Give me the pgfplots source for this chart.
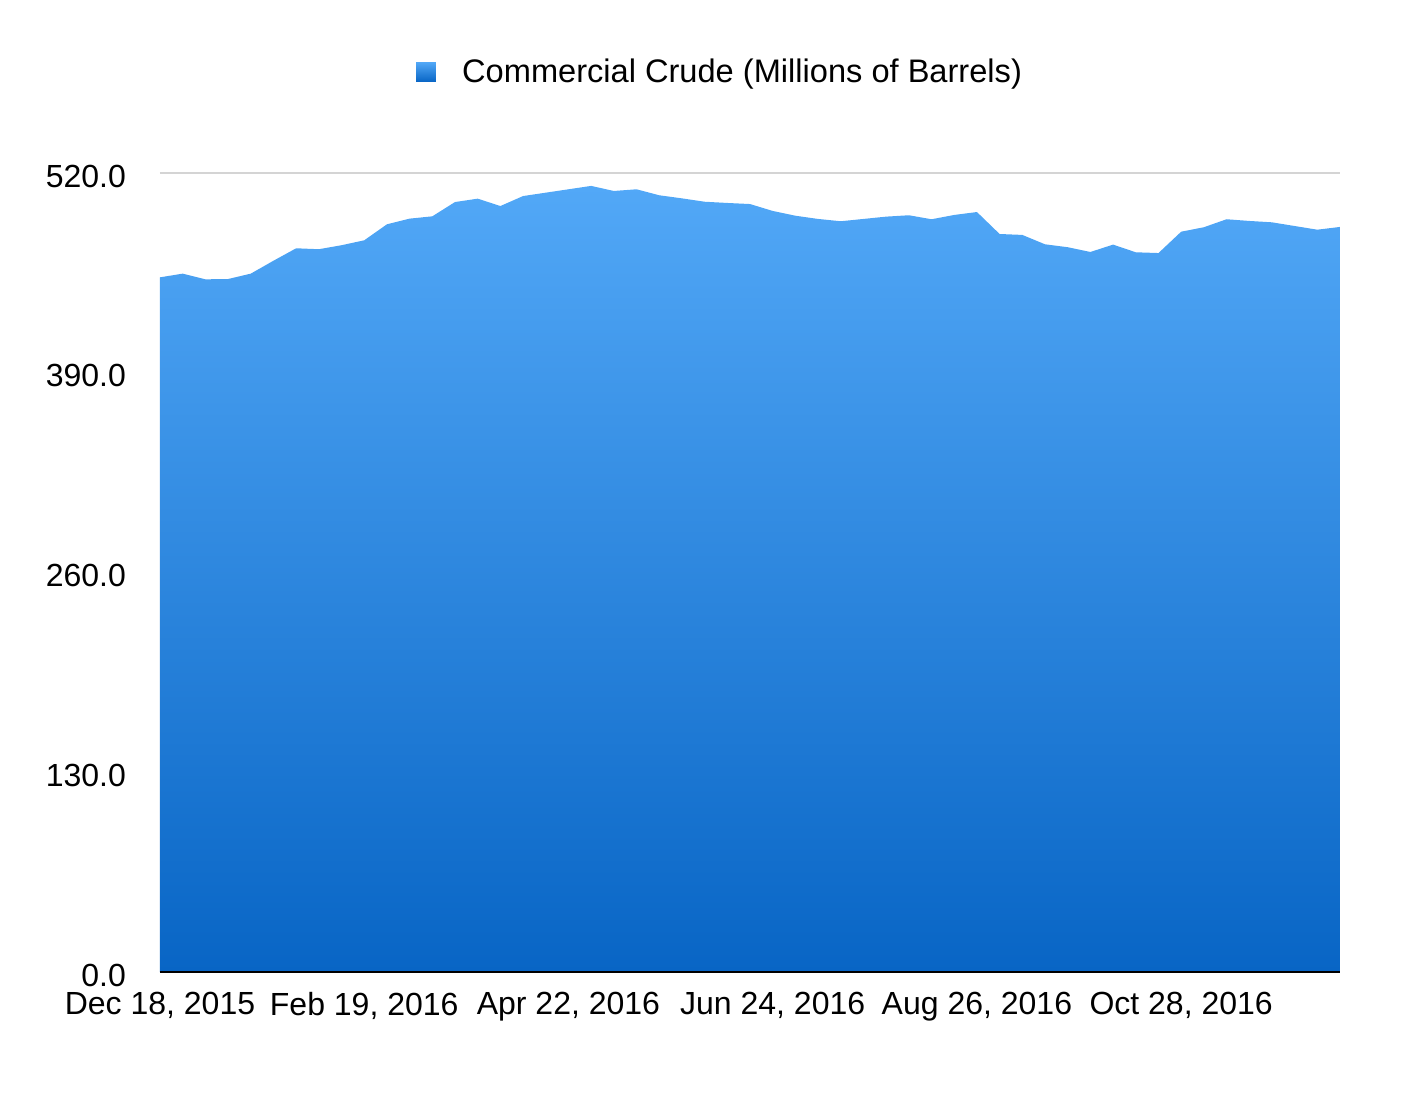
\documentclass[border=0pt]{standalone}
\usepackage{pgfplots}
\pgfplotsset{compat=1.18}
\usepackage{fontspec}
\setmainfont{Liberation Sans}
\definecolor{areatop}{HTML}{52A8F7}
\definecolor{areabot}{HTML}{0865C5}
\definecolor{gridc}{HTML}{D4D4D4}
\begin{document}
\begin{tikzpicture}
\path[use as bounding box] (-80pt,-66pt) rectangle (623pt,486pt);
\begin{axis}[
  at={(0,0)}, anchor=south west,
  scale only axis,
  width=590pt, height=399.5pt,
  xmin=0, xmax=52, ymin=0, ymax=520,
  enlargelimits=false,
  axis on top,
  axis x line=bottom, axis y line=left,
  x axis line style={-, black, line width=1pt},
  y axis line style={draw=none},
  major tick length=0pt,
  xtick={0,9,18,27,36,45},
  xticklabels={{Dec 18, 2015},{Feb 19, 2016},{Apr 22, 2016},{Jun 24, 2016},{Aug 26, 2016},{Oct 28, 2016}},
  ytick={0,130,260,390,520},
  yticklabel style={/pgf/number format/.cd, fixed, fixed zerofill, precision=1, assume math mode=true, /tikz/.cd, xshift=-13.5pt, yshift=-1.5pt},
  xticklabel style={yshift=-6.5pt},
  tick label style={font=\fontsize{16}{19}\selectfont},
  legend style={at={(0.4755,1.1265)}, anchor=center, draw=none, fill=none,
    font=\fontsize{16.3}{19}\selectfont},
  legend cell align=left,
  legend image code/.code={
    \path (0pt,0pt) -- (21pt,0pt);
    \fill[top color=areatop, bottom color=areabot] (0pt,-4.9pt) rectangle (9.8pt,4.9pt);
  },
]
\draw[gridc, line width=0.7pt] (axis cs:0,520) -- (axis cs:52,520);
\addplot[draw=none, top color=areatop, bottom color=areabot] table {
x y
0 452.1
1 454.5
2 450.8
3 451.0
4 454.5
5 462.9
6 471.0
7 470.4
8 473.0
9 476.2
10 486.6
11 490.3
12 491.8
13 501.1
14 503.3
15 498.5
16 505.0
17 507.2
18 509.4
19 511.6
20 508.3
21 509.4
22 505.5
23 503.5
24 501.3
25 500.5
26 499.8
27 495.3
28 492.2
29 490.1
30 488.6
31 490.1
32 491.6
33 492.5
34 489.9
35 492.7
36 494.6
37 480.3
38 479.7
39 473.6
40 471.7
41 468.6
42 473.4
43 468.4
44 467.9
45 481.8
46 484.7
47 489.9
48 488.8
49 487.9
50 485.5
51 483.1
52 484.9
} \closedcycle;
\addlegendentry{Commercial Crude (Millions of Barrels)}
\end{axis}
\end{tikzpicture}
\end{document}
